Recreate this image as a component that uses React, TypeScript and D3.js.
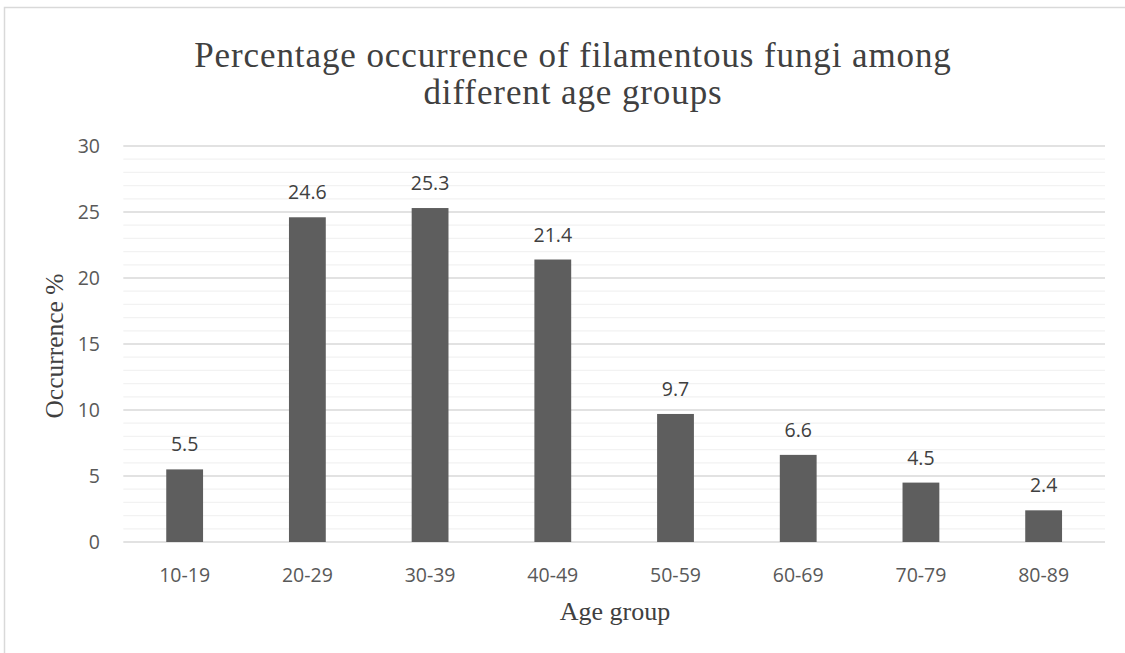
import React from "react";
import * as d3 from "d3";

const categories = ["10-19", "20-29", "30-39", "40-49", "50-59", "60-69", "70-79", "80-89"];
const values = [5.5, 24.6, 25.3, 21.4, 9.7, 6.6, 4.5, 2.4];
const yTicks = [0, 5, 10, 15, 20, 25, 30];
const titleLines = ["Percentage occurrence of filamentous fungi among", "different age groups"];
const xTitle = "Age group";
const yTitle = "Occurrence %";

const W = 1125;
const H = 653;
const plot = { left: 123.3, right: 1105, top: 146, bottom: 542 };

export default function App() {
  const x = d3.scaleBand<string>().domain(categories).range([plot.left, plot.right]).paddingInner(0.7).paddingOuter(0.35);
  const y = d3.scaleLinear().domain([0, 30]).range([plot.bottom, plot.top]);
  const minor = d3.range(0, 31, 1).filter((v) => v % 5 !== 0);
  const sans = "Open Sans, Lato, sans-serif";
  const serif = "Liberation Serif, Times New Roman, serif";
  return (
    <svg width={W} height={H} style={{ position: "absolute", left: 0, top: 0, background: "#fff" }}>
      <rect x={4.5} y={7.5} width={W + 10} height={H + 10} fill="#fff" stroke="#d9d9d9" strokeWidth={1.5} />
      {titleLines.map((t, i) => (
        <text key={i} x={573} y={67 + i * 37} textAnchor="middle" fontFamily={serif} fontSize={35} letterSpacing={0.9} fill="#404040">
          {t}
        </text>
      ))}
      {minor.map((v) => (
        <line key={"m" + v} x1={plot.left} x2={plot.right} y1={y(v)} y2={y(v)} stroke="#f2f2f2" strokeWidth={1.3} />
      ))}
      {yTicks.map((v) => (
        <g key={"t" + v}>
          <line x1={plot.left} x2={plot.right} y1={y(v)} y2={y(v)} stroke="#d9d9d9" strokeWidth={1.3} />
          <text x={100} y={y(v)} dy="0.36em" textAnchor="end" fontFamily={sans} fontSize={19.5} fill="#595959">
            {v}
          </text>
        </g>
      ))}
      {categories.map((c, i) => (
        <g key={c}>
          <rect x={x(c)} y={y(values[i])} width={x.bandwidth()} height={y(0) - y(values[i])} fill="#5e5e5e" />
          <text x={(x(c) as number) + x.bandwidth() / 2} y={y(values[i]) - 18} textAnchor="middle" fontFamily={sans} fontSize={19.5} fill="#404040">
            {values[i]}
          </text>
          <text x={(x(c) as number) + x.bandwidth() / 2} y={582} textAnchor="middle" fontFamily={sans} fontSize={19.5} fill="#595959">
            {c}
          </text>
        </g>
      ))}
      <text x={615} y={620} textAnchor="middle" fontFamily={serif} fontSize={26} fill="#404040">
        {xTitle}
      </text>
      <text transform={`translate(63,${346}) rotate(-90)`} textAnchor="middle" fontFamily={serif} fontSize={25.5} fill="#404040">
        {yTitle}
      </text>
    </svg>
  );
}
